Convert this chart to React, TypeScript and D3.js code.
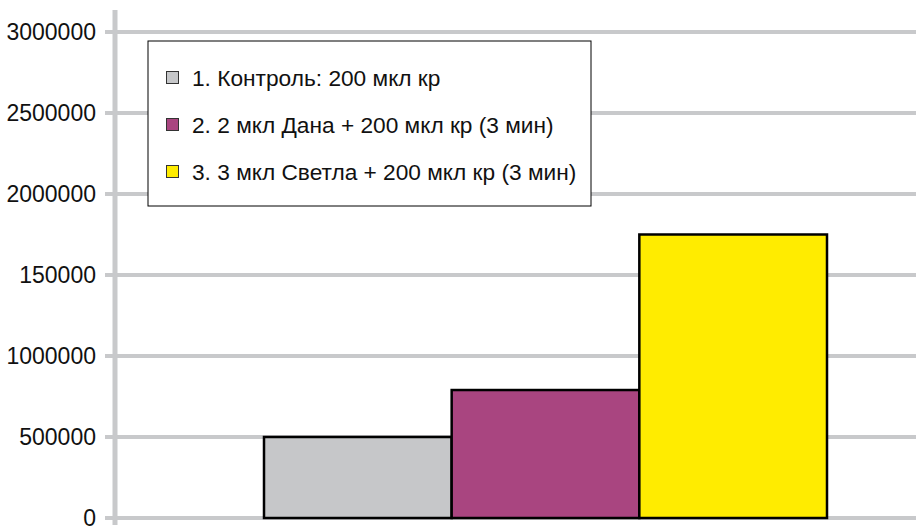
import React, { useEffect, useRef } from 'react';
import * as d3 from 'd3';

// данные графика
const seriesNames = [
  '1. Контроль: 200 мкл кр',
  '2. 2 мкл Дана + 200 мкл кр (3 мин)',
  '3. 3 мкл Светла + 200 мкл кр (3 мин)',
];
const seriesValues = [500000, 790000, 1750000];
const seriesColors = ['#c6c7c9', '#a94580', '#ffec00'];
const tickValues = [0, 500000, 1000000, 1500000, 2000000, 2500000, 3000000];
const tickLabels = ['0', '500000', '1000000', '150000', '2000000', '2500000', '3000000'];

const W = 916;
const H = 529;

const App: React.FC = () => {
  const ref = useRef<SVGSVGElement>(null);

  useEffect(() => {
    if (!ref.current) return;
    const svg = d3.select(ref.current);
    svg.selectAll('*').remove();

    const axisX = 115;
    const font = '"Liberation Sans", Arial, sans-serif';

    const y = d3.scaleLinear().domain([0, 3000000]).range([518, 32]);
    const x = d3.scaleBand<string>().domain(seriesNames).range([264, 827]).paddingInner(0);

    // сетка
    svg.append('g')
      .selectAll('line')
      .data(tickValues)
      .enter()
      .append('line')
      .attr('x1', axisX - 10)
      .attr('x2', W)
      .attr('y1', d => y(d))
      .attr('y2', d => y(d))
      .attr('stroke', '#c8c9cb')
      .attr('stroke-width', 4);

    // вертикальная ось
    svg.append('line')
      .attr('x1', axisX)
      .attr('x2', axisX)
      .attr('y1', 10)
      .attr('y2', 525)
      .attr('stroke', '#c8c9cb')
      .attr('stroke-width', 5);

    // подписи оси
    svg.append('g')
      .selectAll('text')
      .data(tickValues)
      .enter()
      .append('text')
      .attr('x', 96)
      .attr('y', d => y(d))
      .attr('dy', '0.35em')
      .attr('text-anchor', 'end')
      .attr('font-family', font)
      .attr('font-size', 23)
      .attr('fill', '#111')
      .text((_d, i) => tickLabels[i]);

    // столбцы
    svg.append('g')
      .selectAll('rect')
      .data(seriesValues)
      .enter()
      .append('rect')
      .attr('x', (_d, i) => x(seriesNames[i])!)
      .attr('y', d => y(d))
      .attr('width', x.bandwidth())
      .attr('height', d => y(0) - y(d))
      .attr('fill', (_d, i) => seriesColors[i])
      .attr('stroke', '#000')
      .attr('stroke-width', 2.5);

    // легенда
    const legend = svg.append('g').attr('transform', 'translate(148,41)');
    legend.append('rect')
      .attr('width', 443)
      .attr('height', 165)
      .attr('fill', '#fff')
      .attr('stroke', '#000')
      .attr('stroke-width', 1);

    const rows = legend.selectAll('g.row')
      .data(seriesNames)
      .enter()
      .append('g')
      .attr('class', 'row')
      .attr('transform', (_d, i) => `translate(0,${37 + i * 47})`);

    rows.append('rect')
      .attr('x', 18.5)
      .attr('y', -6.5)
      .attr('width', 12)
      .attr('height', 12)
      .attr('fill', (_d, i) => seriesColors[i])
      .attr('stroke', '#333')
      .attr('stroke-width', 1);

    rows.append('text')
      .attr('x', 44)
      .attr('y', 0)
      .attr('dy', '0.36em')
      .attr('font-family', font)
      .attr('font-size', 22.7)
      .attr('fill', '#111')
      .text(d => d);
  }, []);

  return (
    <svg
      ref={ref}
      width={W}
      height={H}
      style={{ position: 'absolute', left: 0, top: 0, background: '#fff' }}
    />
  );
};

export default App;
